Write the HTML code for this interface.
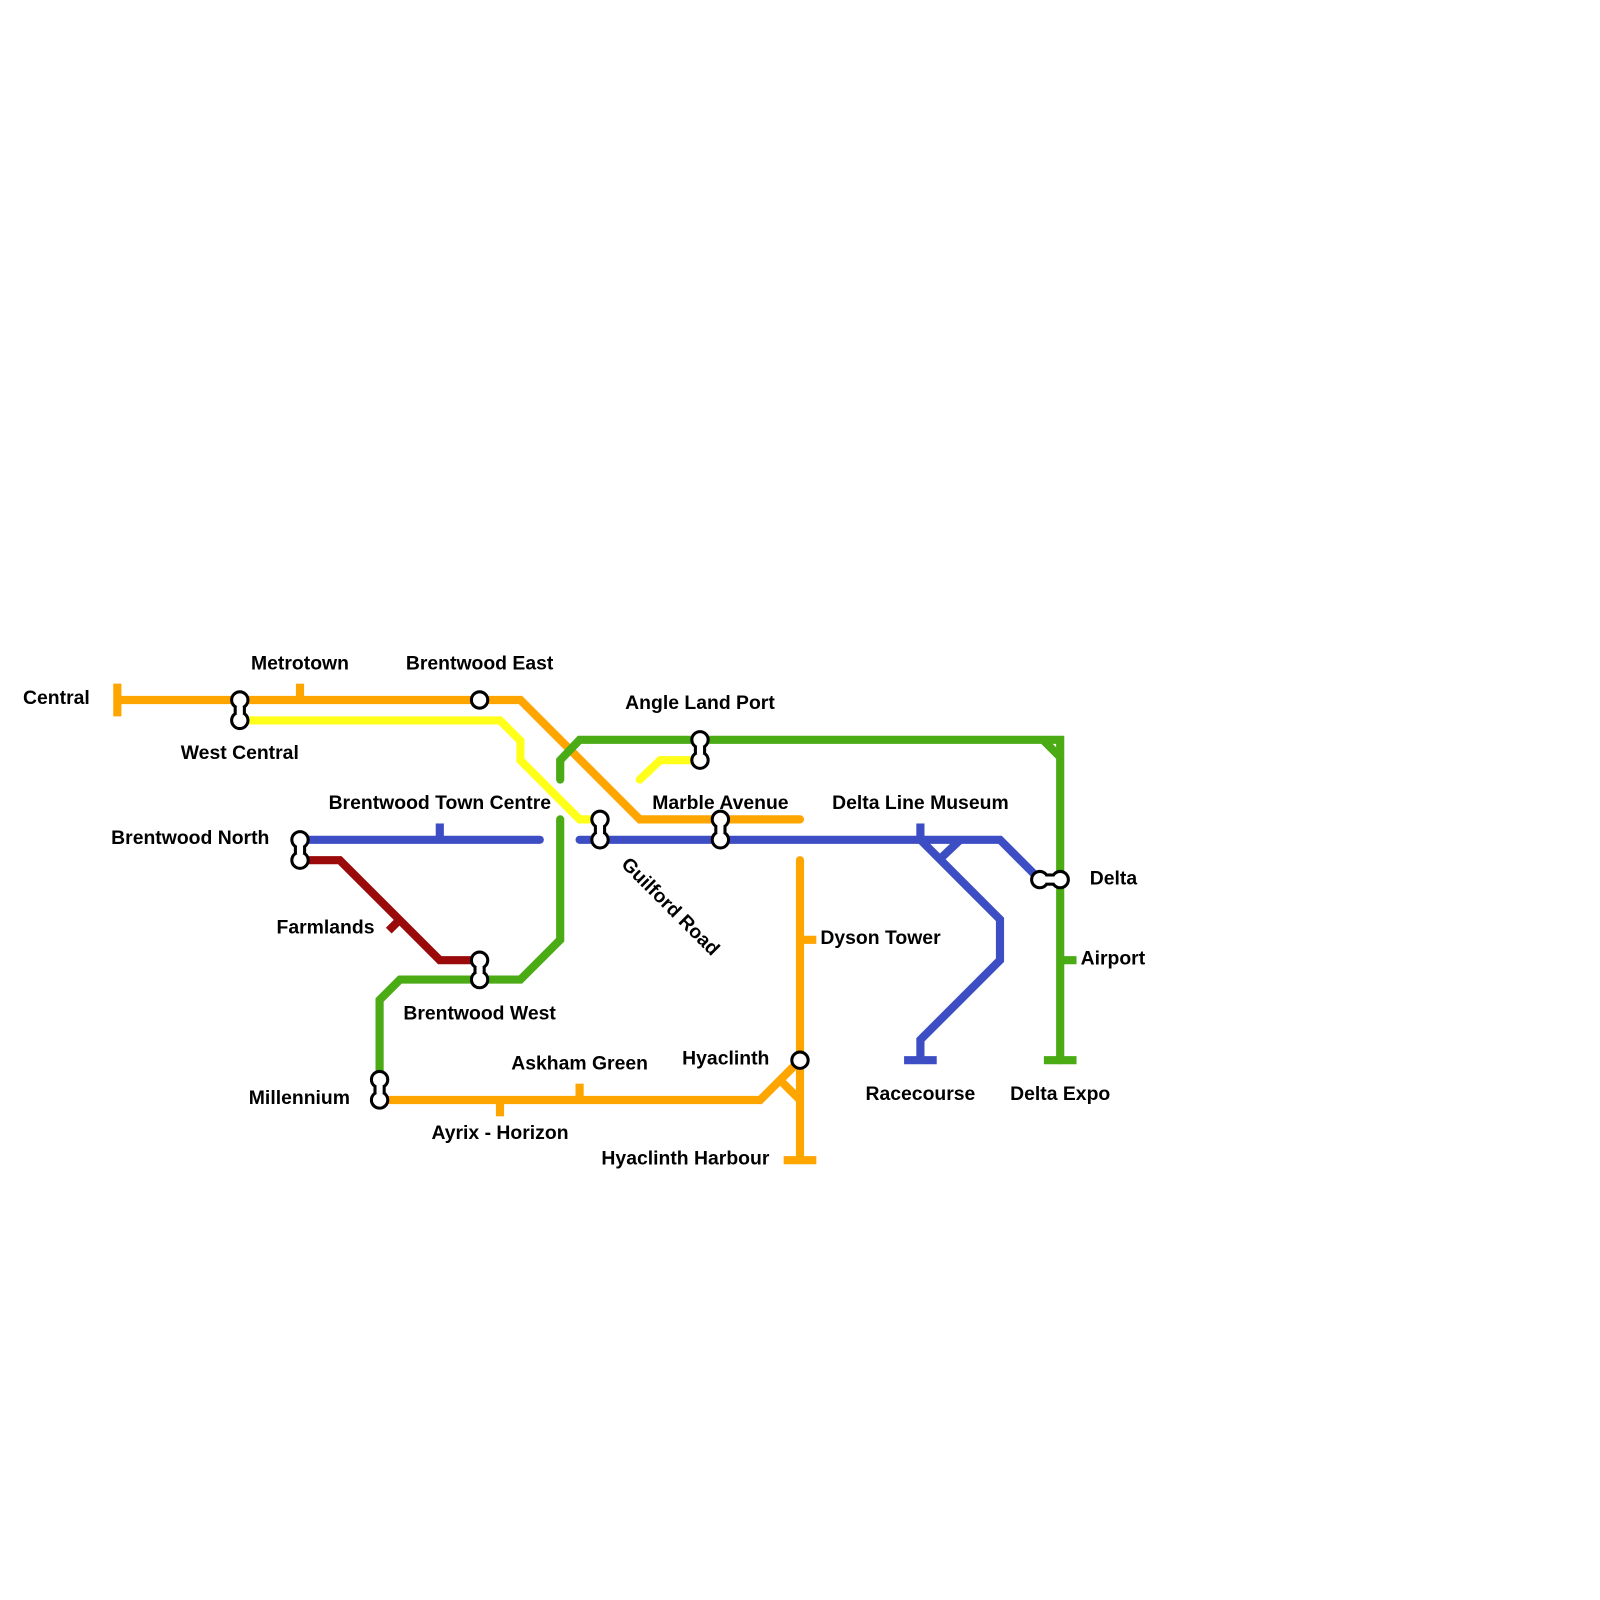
<!DOCTYPE html>
<html><head><style>body{margin:0;background:#fff}svg{display:block}text{font-family:"Liberation Sans",Arial,sans-serif;font-weight:bold;font-size:19px;fill:#000}</style></head><body>
<svg width="1600" height="1600" viewBox="0 0 1600 1600">
<g transform="scale(1.0204)">
<g fill="none" stroke-width="8" stroke-linejoin="miter" stroke-linecap="round">
<polyline stroke="#ffa500" stroke-linecap="butt" points="115,686 510,686 627,803 784,803"/>
<polyline stroke="#ffa500" points="784,803 784,803"/>
<polyline stroke="#ffff1a" points="235,706 490,706 510,726 510,745 568,803 588,803"/>
<polyline stroke="#ffff1a" points="627,764 647,745 686,745"/>
<polyline stroke="#4aab15" points="549,764 549,745 568,725 1039,725 1039,1039"/>
<polyline stroke="#4aab15" stroke-linecap="butt" points="1022,725 1039,742"/>
<polyline stroke="#4aab15" points="549,803 549,921 510,960 392,960 372,980 372,1058"/>
<polyline stroke="#3d4ec4" points="294,823 529,823"/>
<polyline stroke="#3d4ec4" points="568,823 980,823 1019,862"/>
<polyline stroke="#3d4ec4" stroke-linecap="butt" points="902,823 980,901 980,941 902,1019 902,1039"/>
<polyline stroke="#3d4ec4" stroke-linecap="butt" points="921,842 941,823"/>
<polyline stroke="#9b0a0a" points="294,843 333,843 431,941 470,941"/>
<polyline stroke="#ffa500" points="784,843 784,1137"/>
<polyline stroke="#ffa500" stroke-linecap="butt" points="372,1078 745,1078 784,1039"/>
<polyline stroke="#ffa500" stroke-linecap="butt" points="764,1058 784,1078"/>
</g>
<g stroke-width="8" fill="none">
<line x1="115" y1="670" x2="115" y2="702" stroke="#ffa500"/>
<line x1="294" y1="670" x2="294" y2="686" stroke="#ffa500"/>
<line x1="568" y1="1062" x2="568" y2="1078" stroke="#ffa500"/>
<line x1="490" y1="1078" x2="490" y2="1094" stroke="#ffa500"/>
<line x1="784" y1="921" x2="800" y2="921" stroke="#ffa500"/>
<line x1="768" y1="1137" x2="800" y2="1137" stroke="#ffa500"/>
<line x1="1039" y1="941" x2="1055" y2="941" stroke="#4aab15"/>
<line x1="1023" y1="1039" x2="1055" y2="1039" stroke="#4aab15"/>
<line x1="431" y1="807" x2="431" y2="823" stroke="#3d4ec4"/>
<line x1="902" y1="807" x2="902" y2="823" stroke="#3d4ec4"/>
<line x1="886" y1="1039" x2="918" y2="1039" stroke="#3d4ec4"/>
<line x1="381" y1="912" x2="392" y2="901" stroke="#9b0a0a"/>
</g>
<g fill="#fff" stroke="#000" stroke-width="3">
<circle cx="470" cy="686" r="8"/>
<circle cx="784" cy="1039" r="8"/>
</g>
<g stroke="#000" stroke-width="3" fill="#fff">
<g><rect x="229" y="686" width="12" height="20" stroke="none" fill="#000"/><circle cx="235" cy="686" r="8"/><circle cx="235" cy="706" r="8"/><rect x="232" y="692" width="6" height="8" stroke="none"/></g>
<g><rect x="582" y="803" width="12" height="20" stroke="none" fill="#000"/><circle cx="588" cy="803" r="8"/><circle cx="588" cy="823" r="8"/><rect x="585" y="809" width="6" height="8" stroke="none"/></g>
<g><rect x="680" y="725" width="12" height="20" stroke="none" fill="#000"/><circle cx="686" cy="725" r="8"/><circle cx="686" cy="745" r="8"/><rect x="683" y="731" width="6" height="8" stroke="none"/></g>
<g><rect x="700" y="803" width="12" height="20" stroke="none" fill="#000"/><circle cx="706" cy="803" r="8"/><circle cx="706" cy="823" r="8"/><rect x="703" y="809" width="6" height="8" stroke="none"/></g>
<g><rect x="288" y="823" width="12" height="20" stroke="none" fill="#000"/><circle cx="294" cy="823" r="8"/><circle cx="294" cy="843" r="8"/><rect x="291" y="829" width="6" height="8" stroke="none"/></g>
<g><rect x="464" y="941" width="12" height="19" stroke="none" fill="#000"/><circle cx="470" cy="941" r="8"/><circle cx="470" cy="960" r="8"/><rect x="467" y="947" width="6" height="7" stroke="none"/></g>
<g><rect x="366" y="1058" width="12" height="20" stroke="none" fill="#000"/><circle cx="372" cy="1058" r="8"/><circle cx="372" cy="1078" r="8"/><rect x="369" y="1064" width="6" height="8" stroke="none"/></g>
<g><rect x="1019" y="856" width="20" height="12" stroke="none" fill="#000"/><circle cx="1019" cy="862" r="8"/><circle cx="1039" cy="862" r="8"/><rect x="1025" y="859" width="8" height="6" stroke="none"/></g>
</g>
<text x="88" y="690" text-anchor="end">Central</text>
<text x="294" y="656" text-anchor="middle">Metrotown</text>
<text x="470" y="656" text-anchor="middle">Brentwood East</text>
<text x="235" y="744" text-anchor="middle">West Central</text>
<text x="686" y="695" text-anchor="middle">Angle Land Port</text>
<text x="431" y="793" text-anchor="middle">Brentwood Town Centre</text>
<text x="706" y="793" text-anchor="middle">Marble Avenue</text>
<text x="902" y="793" text-anchor="middle">Delta Line Museum</text>
<text x="264" y="827" text-anchor="end">Brentwood North</text>
<text x="1068" y="867">Delta</text>
<text x="367" y="915" text-anchor="end">Farmlands</text>
<text x="804" y="925">Dyson Tower</text>
<text x="1059" y="945">Airport</text>
<text x="470" y="999" text-anchor="middle">Brentwood West</text>
<text x="568" y="1048" text-anchor="middle">Askham Green</text>
<text x="754" y="1043" text-anchor="end">Hyaclinth</text>
<text x="343" y="1082" text-anchor="end">Millennium</text>
<text x="902" y="1078" text-anchor="middle">Racecourse</text>
<text x="1039" y="1078" text-anchor="middle">Delta Expo</text>
<text x="490" y="1116" text-anchor="middle">Ayrix - Horizon</text>
<text x="754" y="1141" text-anchor="end">Hyaclinth Harbour</text>
<text x="0" y="0" transform="translate(608,848) rotate(45)">Guilford Road</text>
</g>
</svg>
</body></html>
